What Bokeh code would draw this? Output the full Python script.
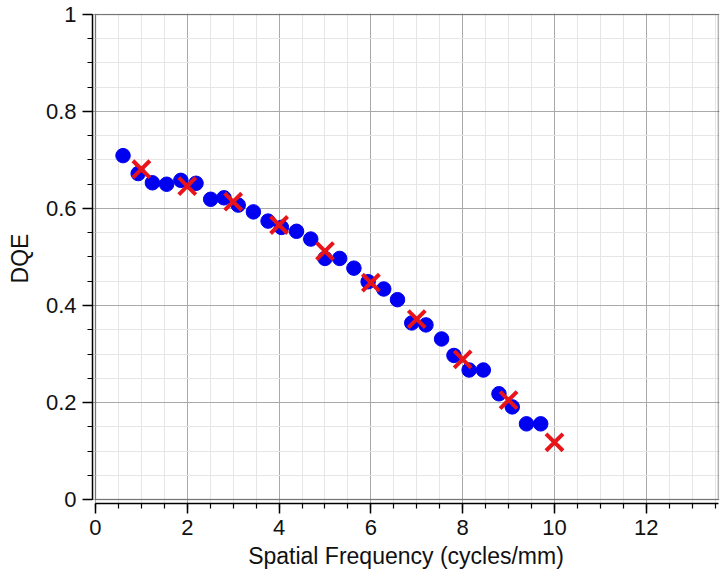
import numpy as np
from bokeh.plotting import figure
from bokeh.models import Range1d, FixedTicker, NumeralTickFormatter, BoxAnnotation
from bokeh.embed import file_html
from bokeh.resources import INLINE

# Measured DQE (blue circles)
meas_freq = [0.60, 0.93, 1.24, 1.55, 1.86, 2.19, 2.51, 2.80, 3.11, 3.44, 3.76, 4.05, 4.38, 4.69, 5.00,
             5.32, 5.63, 5.94, 6.28, 6.58, 6.89, 7.20, 7.54, 7.81, 8.14, 8.45, 8.79, 9.08, 9.39, 9.70]
meas_dqe = [0.709, 0.672, 0.653, 0.650, 0.658, 0.652, 0.619, 0.622, 0.607, 0.593, 0.574, 0.561, 0.553, 0.537, 0.497,
            0.497, 0.477, 0.449, 0.434, 0.412, 0.364, 0.360, 0.331, 0.297, 0.267, 0.267, 0.218, 0.191, 0.156, 0.156]

# Reference DQE (red crosses)
ref_freq = [1, 2, 3, 4, 5, 6, 7, 8, 9, 10]
ref_dqe = [0.681, 0.646, 0.614, 0.566, 0.512, 0.447, 0.372, 0.289, 0.205, 0.118]

x_ticks = [0, 2, 4, 6, 8, 10, 12]
y_ticks = [0, 0.2, 0.4, 0.6, 0.8, 1.0]

X_MAX = 13.57
FONT = "Liberation Sans"

p = figure(width=726, height=573, output_backend="svg", toolbar_location=None,
           x_range=Range1d(-0.065, 13.595), y_range=Range1d(-0.0082, 1.002),
           min_border_left=92, min_border_right=7, min_border_top=13, min_border_bottom=70)

p.outline_line_color = None
p.background_fill_color = "white"
p.border_fill_color = "white"

# inner frame
p.add_layout(BoxAnnotation(left=0, right=X_MAX, bottom=0, top=1.0,
                           fill_color=None, fill_alpha=0, line_color="black", line_width=1.5))

p.xaxis.ticker = FixedTicker(ticks=x_ticks, minor_ticks=list(np.arange(0, 13.6, 0.5)))
p.yaxis.ticker = FixedTicker(ticks=y_ticks, minor_ticks=list(np.round(np.arange(0, 1.0001, 0.05), 3)))
p.yaxis.formatter = NumeralTickFormatter(format="0.[0]")
p.xaxis.bounds = (0, X_MAX)
p.yaxis.bounds = (0, 1.0)

for ax in (p.xaxis, p.yaxis):
    ax.axis_line_color = "black"
    ax.axis_line_width = 1.5
    ax.major_tick_line_color = "black"
    ax.minor_tick_line_color = "black"
    ax.major_tick_line_width = 1.5
    ax.minor_tick_line_width = 1.2
    ax.major_tick_out = 10
    ax.major_tick_in = 0
    ax.minor_tick_out = 5
    ax.minor_tick_in = 0
    ax.major_label_text_font = FONT
    ax.major_label_text_font_size = "22px"
    ax.major_label_text_color = "#111111"
    ax.axis_label_text_font = FONT
    ax.axis_label_text_font_size = "23px"
    ax.axis_label_text_font_style = "normal"
    ax.axis_label_text_color = "#111111"

p.xaxis.axis_label = "Spatial Frequency (cycles/mm)"
p.yaxis.axis_label = "DQE"
p.xaxis.major_label_standoff = 6
p.yaxis.major_label_standoff = 6
p.xaxis.axis_label_standoff = 5
p.yaxis.axis_label_standoff = 10

for g in (p.xgrid, p.ygrid):
    g.grid_line_color = "#a9a9a9"
    g.grid_line_width = 1
    g.minor_grid_line_color = "#e6e6e6"
    g.minor_grid_line_width = 1

p.scatter(meas_freq, meas_dqe, marker="circle", size=14.5, fill_color="#0000f0", line_color="#0000f0")
p.scatter(ref_freq, ref_dqe, marker="x", size=24, line_color="#e8141a", line_width=4)

open("out.html", "w").write(file_html(p, INLINE))
